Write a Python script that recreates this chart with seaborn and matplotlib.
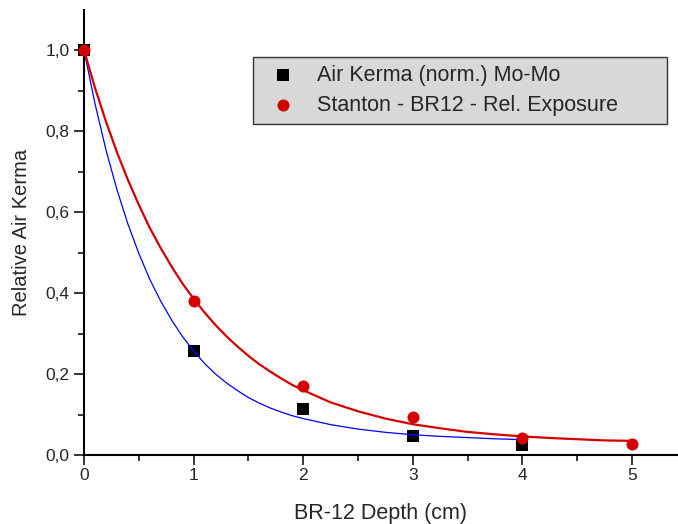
import numpy as np
import pandas as pd
import seaborn as sns
import matplotlib.pyplot as plt
from matplotlib.ticker import MultipleLocator, FixedLocator

# measured points
depth_mo = [0, 1, 2, 3, 4]
kerma_mo = [1.0, 0.257, 0.114, 0.047, 0.025]
depth_st = [0, 1, 2, 3, 4, 5]
exposure_st = [1.0, 0.380, 0.170, 0.095, 0.042, 0.027]

# fitted curves
fit_x_mo = [0, 0.1, 0.2, 0.3, 0.4, 0.5, 0.6, 0.7, 0.8, 0.9, 1.0, 1.1, 1.2,
            1.3, 1.4, 1.5, 1.6, 1.7, 1.8, 1.9, 2.0, 2.25, 2.5, 2.75, 3.0,
            3.25, 3.5, 3.75, 4.0]
fit_y_mo = [1.000, 0.868, 0.754, 0.656, 0.571, 0.498, 0.434, 0.380, 0.333,
            0.292, 0.257, 0.226, 0.200, 0.178, 0.159, 0.142, 0.128, 0.116,
            0.106, 0.097, 0.090, 0.075, 0.064, 0.056, 0.050, 0.046, 0.043,
            0.040, 0.038]
fit_x_st = [0, 0.1, 0.2, 0.3, 0.4, 0.5, 0.6, 0.7, 0.8, 0.9, 1.0, 1.1, 1.2,
            1.3, 1.4, 1.5, 1.6, 1.7, 1.8, 1.9, 2.0, 2.25, 2.5, 2.75, 3.0,
            3.25, 3.5, 3.75, 4.0, 4.25, 4.5, 4.75, 5.0]
fit_y_st = [1.000, 0.907, 0.824, 0.748, 0.680, 0.618, 0.561, 0.511, 0.465,
            0.423, 0.386, 0.352, 0.321, 0.293, 0.268, 0.245, 0.224, 0.206,
            0.189, 0.173, 0.160, 0.130, 0.108, 0.090, 0.076, 0.066, 0.057,
            0.051, 0.046, 0.042, 0.039, 0.036, 0.035]

x_ticks = [0, 1, 2, 3, 4, 5]
x_ticklabels = ["0", "1", "2", "3", "4", "5"]
y_ticks = [0.0, 0.2, 0.4, 0.6, 0.8, 1.0]
y_ticklabels = ["0,0", "0,2", "0,4", "0,6", "0,8", "1,0"]

sns.set_style("ticks")
plt.rcParams['font.family'] = ['Liberation Sans', 'DejaVu Sans']

fig = plt.figure(figsize=(6.78, 5.24), dpi=100)
ax = fig.add_axes([84/678, 1-455/524, (678-84)/678, 445/524])

red = "#d40000"
sns.lineplot(x=fit_x_mo, y=fit_y_mo, color="#0000ff", linewidth=0.9, ax=ax, legend=False, zorder=3)
sns.lineplot(x=fit_x_st, y=fit_y_st, color=red, linewidth=1.6, ax=ax, legend=False, zorder=3)

sns.scatterplot(x=depth_mo, y=kerma_mo, marker="s", s=70, color="black", linewidth=0,
                label="Air Kerma (norm.) Mo-Mo", ax=ax, zorder=2, clip_on=False)
sns.scatterplot(x=depth_st, y=exposure_st, marker="o", s=75, color=red, linewidth=0,
                label="Stanton - BR12 - Rel. Exposure", ax=ax, zorder=4, clip_on=False)

ax.set_xlim(0, 5.42)
ax.set_ylim(0, 1.099)
ax.xaxis.set_major_locator(FixedLocator(x_ticks))
ax.set_xticklabels(x_ticklabels)
ax.xaxis.set_minor_locator(MultipleLocator(0.5))
ax.yaxis.set_major_locator(FixedLocator(y_ticks))
ax.set_yticklabels(y_ticklabels)
ax.yaxis.set_minor_locator(MultipleLocator(0.1))

ax.tick_params(which="major", direction="out", length=7, width=1.1, labelsize=12.5, color="black")
ax.tick_params(axis="x", which="major", pad=2.5)
ax.tick_params(which="minor", direction="out", length=4, width=1.1, color="black")
for side in ["left", "bottom"]:
    ax.spines[side].set_linewidth(1.5)
    ax.spines[side].set_color("black")
sns.despine(ax=ax)

ax.set_xlabel("BR-12 Depth (cm)", fontsize=15.5, labelpad=14)
ax.set_ylabel("Relative Air Kerma", fontsize=14.5, labelpad=10)

leg = ax.legend(loc="upper left", bbox_to_anchor=(0.2845, 0.0, 0.6965, 0.894),
                mode="expand", borderaxespad=0,
                fontsize=15.5, frameon=True, fancybox=False, handletextpad=0.5,
                borderpad=0.36, labelspacing=0.42, handlelength=2.1)
leg.get_frame().set_facecolor("#d8d8d8")
leg.get_frame().set_edgecolor("#333333")
leg.get_frame().set_linewidth(1.0)
leg.get_frame().set_alpha(1)

fig.savefig("out.png", dpi=100)
